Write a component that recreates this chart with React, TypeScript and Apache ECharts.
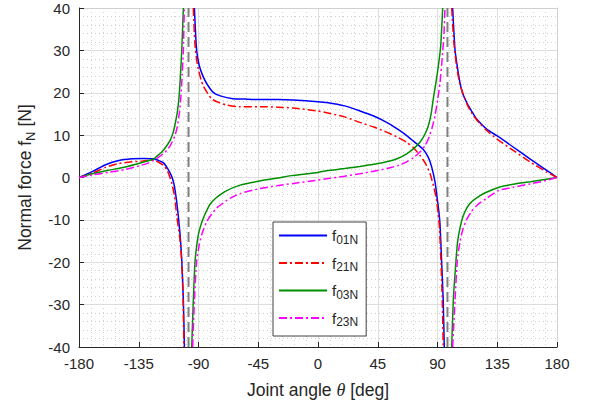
import React, { useEffect, useRef } from 'react';
import * as echarts from 'echarts';

const FONT = '"Liberation Sans", Arial, Helvetica, sans-serif';

// Axis ranges / ticks
const xMin = -180;
const xMax = 180;
const xStep = 45;
const yMin = -40;
const yMax = 40;
const yStep = 10;

// Singular joint angles (vertical dashed lines)
const singularAngles = [-97.5, 97.5];

// Legend names and subscripts
const seriesNames = ['f01N', 'f21N', 'f03N', 'f23N'];
const seriesSubs = ['01N', '21N', '03N', '23N'];

// f01N (blue, solid)
const f01N_a = [[-180,0],[-170,1.4],[-160,3.0],[-150,4.0],[-140,4.4],[-132,4.5],[-124,4.4],[-120,4.0],[-116.5,3.5],[-113,2.0],[-110.5,0.5],[-108.5,-1.5],[-106.5,-5.5],[-104,-13],[-102.6,-19.7],[-101.4,-29],[-100.6,-40]];
const f01N_b = [[-93.1,40],[-92.2,34],[-91.4,30],[-89.5,26.5],[-86.5,23.8],[-83.5,22],[-79,20.1],[-73,19.2],[-64,18.6],[-55,18.5],[-45,18.4],[-30,18.4],[-18.6,18.3],[0,17.9],[6.5,17.7],[20,16.9],[31.6,15.7],[42,14.5],[51.7,13.0],[60,11.4],[66.8,9.9],[73,8.3],[79.3,6.6],[83,4.8],[85.6,2.5],[88.1,-1],[89.6,-4.5],[91,-8],[91.9,-11.1],[93.1,-19.7],[94.3,-29],[95.1,-40]];
const f01N_c = [[101.4,40],[103.2,30.1],[105,26],[106.9,22.4],[109,19.8],[112,17.7],[116,15.5],[119.5,13.8],[127,11.4],[135,9.8],[147,7.2],[159.6,4.4],[172.2,1.7],[180,0]];

// f21N (red, dash-dot)
const f21N_a = [[-180,0],[-170,1.0],[-160,2.4],[-150,3.3],[-140,3.7],[-132,3.9],[-124,4.1],[-120,3.6],[-116.5,2.9],[-114,1.9],[-112,0.5],[-110,-1.5],[-108,-4.5],[-106.4,-9],[-104,-14.5],[-102.6,-20],[-101.6,-29],[-101,-40]];
const f21N_b = [[-93.9,40],[-92.8,32],[-91.5,28],[-90.1,25.5],[-88,23],[-86.4,21.6],[-83,19.8],[-80,18.5],[-74,17.6],[-68.7,17.1],[-58.7,16.7],[-43.7,16.7],[-30,16.6],[-18.6,16.4],[0,15.7],[6.5,15.3],[20,14.3],[31.6,13.0],[42,11.9],[51.7,10.7],[60,9.5],[66.8,8.3],[72,7],[76.8,5.2],[81,3.3],[84.3,1.0],[87,-2],[89,-4.8],[90.5,-8.5],[91.5,-12],[92.6,-19.7],[93.6,-29],[94.3,-40]];
const f21N_c = [[100.7,40],[102.3,32],[104.4,26.2],[106.5,22.5],[109.4,19.6],[113,16.8],[117,14.6],[122,12.7],[127,11.1],[134.6,9.1],[147,6.4],[159.6,3.7],[172.2,1.3],[180,0]];

// f03N (green, solid)
const f03N_a = [[-180,0],[-170,0.9],[-158,1.7],[-145,2.5],[-133,3.5],[-124,4.3],[-121.5,5.0],[-118,5.9],[-113.9,7.5],[-111,9.0],[-109,10.7],[-107.5,12.8],[-106,15.3],[-104.8,18.5],[-103.9,22.4],[-102.6,30.1],[-101.4,40]];
const f03N_b = [[-95.1,-40],[-93.9,-29],[-92.6,-19.7],[-91.3,-16],[-90.1,-13.5],[-88.3,-11.3],[-86.4,-9.6],[-84,-7.9],[-81.3,-6.3],[-77.5,-5],[-73.8,-4.1],[-68.7,-3.1],[-58.7,-1.8],[-43.7,-0.8],[-30,-0.1],[-18.6,0.5],[0,1.2],[6.5,1.6],[20,2.1],[31.6,2.6],[42,3.1],[51.7,3.7],[60,4.5],[66.8,5.6],[72,6.8],[76.8,8.3],[80.5,10.2],[83.1,12.2],[85.2,15],[86.8,18.5],[88.8,22.4],[90.6,26.2],[92.4,31],[93.9,40]];
const f03N_c = [[100.7,-40],[101.9,-29],[103.9,-19.7],[105.2,-15],[106.9,-12],[109,-9.4],[112,-7.2],[115.5,-5.8],[119.5,-4.8],[126,-3.6],[136.5,-2.3],[147,-1.6],[160,-1.0],[172,-0.4],[180,0]];

// f23N (magenta, dash-dot)
const f23N_a = [[-180,0],[-170,0.6],[-158,1.2],[-145,1.9],[-133,2.9],[-128,3.4],[-124,4.0],[-120,4.8],[-116.5,5.6],[-113.9,6.4],[-111,7.7],[-107.7,9.9],[-106,12],[-104.4,15.3],[-103.4,18.5],[-102.6,22.4],[-101.4,30.1],[-100.7,40]];
const f23N_b = [[-94.4,-40],[-93.1,-29],[-91.4,-19.7],[-89.5,-16],[-87.6,-13.5],[-83.8,-10.4],[-80,-8.6],[-76.3,-7.2],[-66.3,-4.9],[-58.7,-3.8],[-43.7,-2.6],[-30,-1.9],[-18.6,-1.4],[0,-0.6],[6.5,-0.3],[20,0.3],[31.6,0.9],[42,1.5],[51.7,2.1],[60,2.8],[66.8,3.7],[72,4.7],[76.8,6.0],[80.5,7.5],[83.1,9.1],[86,11.8],[88.1,14.6],[90.2,18.5],[91.9,22.4],[93.5,28],[94.9,34],[95.6,40]];
const f23N_c = [[101.4,-40],[103.2,-29],[104.9,-19.7],[107,-15],[109.4,-11.9],[112.5,-9.6],[115.7,-8.0],[120,-6.5],[127,-4.9],[136.5,-3.0],[147,-2.3],[160,-1.5],[172,-0.7],[180,0]];

const BLUE = '#0000ff';
const RED = '#ff0000';
const GREEN = '#008f00';
const MAGENTA = '#ff00ff';
const DASHDOT = [8, 3, 2, 3];

function curve(name: string, color: string, type: any, segs: number[][][]) {
  return segs.map((seg) => ({
    name,
    type: 'line',
    data: seg,
    showSymbol: false,
    symbol: 'none',
    smooth: 0.2,
    clip: true,
    lineStyle: { color, width: 1.5, type },
    itemStyle: { color },
    emphasis: { disabled: true },
  }));
}

const axisText = '#262626';

export default function App() {
  const ref = useRef<HTMLDivElement>(null);
  useEffect(() => {
    const chart = echarts.init(ref.current!, null, { renderer: 'svg' });
    const dashSeries = singularAngles.map((a) => ({
      type: 'line',
      data: [[a, yMin], [a, yMax]],
      showSymbol: false,
      symbol: 'none',
      silent: true,
      lineStyle: { color: '#808080', width: 2, type: [10, 5] },
      z: 1,
    }));
    const option: any = {
      animation: false,
      backgroundColor: '#ffffff',
      grid: { left: 79, right: 34, top: 8, bottom: 54, containLabel: false },
      xAxis: [
        {
          type: 'value',
          min: xMin,
          max: xMax,
          interval: xStep,
          position: 'bottom',
          name: '{a|Joint angle }{i|θ}{a| [deg]}',
          nameLocation: 'middle',
          nameGap: 34,
          nameTextStyle: {
            rich: {
              a: { fontFamily: FONT, fontSize: 17.5, color: axisText },
              i: { fontFamily: '"Liberation Serif", serif', fontStyle: 'italic', fontSize: 18, color: axisText },
            },
          },
          axisLine: { show: true, onZero: false, lineStyle: { color: axisText, width: 1 } },
          axisTick: { show: true, inside: true, length: 5, lineStyle: { color: axisText } },
          axisLabel: { fontFamily: FONT, fontSize: 15, color: axisText, margin: 9 },
          splitLine: { show: true, lineStyle: { color: '#dedede', width: 1 } },
          minorTick: { show: false, splitNumber: 5 },
          minorSplitLine: { show: true, lineStyle: { color: '#cfcfcf', width: 1, type: [1, 3] } },
        },
        {
          type: 'value',
          min: xMin,
          max: xMax,
          interval: xStep,
          position: 'top',
          axisLine: { show: true, onZero: false, lineStyle: { color: '#d0d0d0', width: 1 } },
          axisTick: { show: false },
          axisLabel: { show: false },
          splitLine: { show: false },
        },
      ],
      yAxis: [
        {
          type: 'value',
          min: yMin,
          max: yMax,
          interval: yStep,
          position: 'left',
          name: '{a|Normal force f}{s|N}{a| [N]}',
          nameLocation: 'middle',
          nameRotate: 90,
          nameGap: 42,
          nameTextStyle: {
            rich: {
              a: { fontFamily: FONT, fontSize: 17.5, color: axisText, lineHeight: 25 },
              s: { fontFamily: FONT, fontSize: 13, color: axisText, lineHeight: 13, verticalAlign: 'bottom' },
            },
          },
          axisLine: { show: true, onZero: false, lineStyle: { color: axisText, width: 1 } },
          axisTick: { show: true, inside: true, length: 5, lineStyle: { color: axisText } },
          axisLabel: { fontFamily: FONT, fontSize: 15, color: axisText, margin: 9 },
          splitLine: { show: true, lineStyle: { color: '#dedede', width: 1 } },
          minorTick: { show: false, splitNumber: 5 },
          minorSplitLine: { show: true, lineStyle: { color: '#cfcfcf', width: 1, type: [1, 3] } },
        },
        {
          type: 'value',
          min: yMin,
          max: yMax,
          interval: yStep,
          position: 'right',
          axisLine: { show: true, onZero: false, lineStyle: { color: '#d0d0d0', width: 1 } },
          axisTick: { show: false },
          axisLabel: { show: false },
          splitLine: { show: false },
        },
      ],
      legend: {
        data: seriesNames,
        orient: 'vertical',
        left: 273,
        top: 222,
        padding: [6, 8, 8, 5],
        itemGap: 10,
        itemWidth: 48,
        itemHeight: 14,
        itemStyle: { opacity: 0 },
        backgroundColor: '#ffffff',
        borderColor: '#404040',
        borderWidth: 1,
        borderRadius: 0,
        selectedMode: false,
        formatter: (name: string) => `{f|f}{s|${seriesSubs[seriesNames.indexOf(name)]}}`,
        textStyle: {
          color: axisText,
          rich: {
            f: { fontFamily: FONT, fontSize: 15, color: axisText, lineHeight: 20 },
            s: { fontFamily: FONT, fontSize: 12, color: axisText, lineHeight: 12, verticalAlign: 'bottom' },
          },
        },
      },
      series: [
        ...dashSeries,
        ...curve('f01N', BLUE, 'solid', [f01N_a, f01N_b, f01N_c]),
        ...curve('f21N', RED, DASHDOT, [f21N_a, f21N_b, f21N_c]),
        ...curve('f03N', GREEN, 'solid', [f03N_a, f03N_b, f03N_c]),
        ...curve('f23N', MAGENTA, DASHDOT, [f23N_a, f23N_b, f23N_c]),
      ],
    };
    chart.setOption(option);
    return () => chart.dispose();
  }, []);
  return (
    <div
      ref={ref}
      style={{ position: 'fixed', left: 0, top: 0, width: 591, height: 404, background: '#fff' }}
    />
  );
}
